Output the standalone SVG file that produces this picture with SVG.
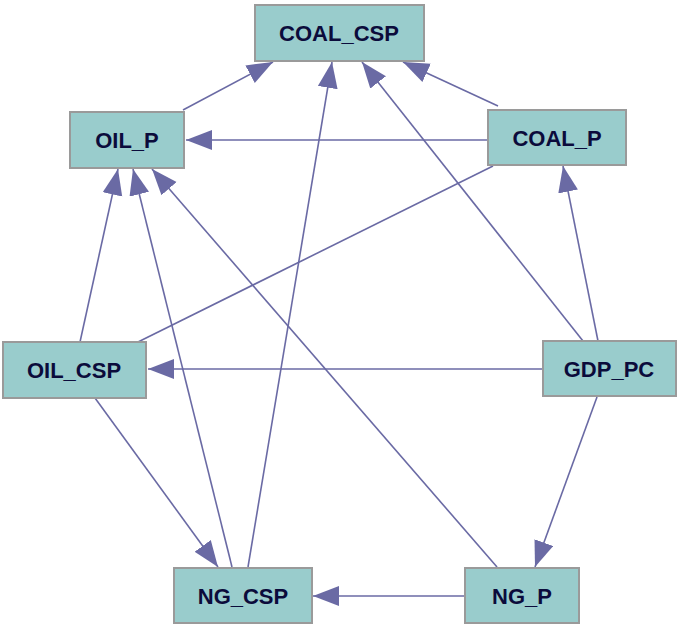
<svg xmlns="http://www.w3.org/2000/svg" width="678" height="629" viewBox="0 0 678 629">
<style>
.n rect{fill:#99cccc;stroke:#9a9a9a;stroke-width:2}
.n text{font-family:"Liberation Sans",Arial,sans-serif;font-weight:bold;font-size:22px;fill:#0b0b3b;text-anchor:middle}
.e line{stroke:#6a6aa4;stroke-width:1.6;fill:none}
.a{marker-end:url(#arr)}
</style>
<defs>
<marker id="arr" markerUnits="userSpaceOnUse" markerWidth="28" markerHeight="22" refX="26" refY="10" orient="auto">
<path d="M0,0 L26,10 L0,20 Z" fill="#6a6aa4"/>
</marker>
</defs>
<rect width="678" height="629" fill="#ffffff"/>
<g id="edges" class="e">
<line class="a" x1="183" y1="110" x2="273" y2="62"/>
<line class="a" x1="488" y1="140" x2="186" y2="140"/>
<line class="a" x1="498" y1="106" x2="403" y2="62"/>
<line class="a" x1="583" y1="341" x2="362" y2="62"/>
<line class="a" x1="598" y1="341" x2="563" y2="166"/>
<line class="a" x1="543" y1="369" x2="148" y2="369"/>
<line class="a" x1="597" y1="397" x2="535" y2="567"/>
<line class="a" x1="80" y1="342" x2="118" y2="169"/>
<line x1="493" y1="166" x2="138" y2="342"/>
<line class="a" x1="95" y1="398" x2="218" y2="567"/>
<line class="a" x1="232" y1="567" x2="133" y2="169"/>
<line class="a" x1="248" y1="567" x2="332" y2="62"/>
<line class="a" x1="497" y1="567" x2="152" y2="169"/>
<line class="a" x1="465" y1="596" x2="313" y2="596"/>
</g>
<g id="COAL_CSP" class="n"><rect x="255" y="5" width="169" height="56"/><text x="339" y="41">COAL_CSP</text></g>
<g id="OIL_P" class="n"><rect x="70" y="112" width="114" height="56"/><text x="127" y="148">OIL_P</text></g>
<g id="COAL_P" class="n"><rect x="488" y="110" width="138" height="55"/><text x="557" y="146">COAL_P</text></g>
<g id="OIL_CSP" class="n"><rect x="3" y="342" width="143" height="56"/><text x="74" y="378">OIL_CSP</text></g>
<g id="GDP_PC" class="n"><rect x="543" y="341" width="133" height="55"/><text x="609" y="377">GDP_PC</text></g>
<g id="NG_CSP" class="n"><rect x="174" y="568" width="138" height="55"/><text x="243" y="604">NG_CSP</text></g>
<g id="NG_P" class="n"><rect x="465" y="568" width="114" height="55"/><text x="522" y="604">NG_P</text></g>
</svg>
